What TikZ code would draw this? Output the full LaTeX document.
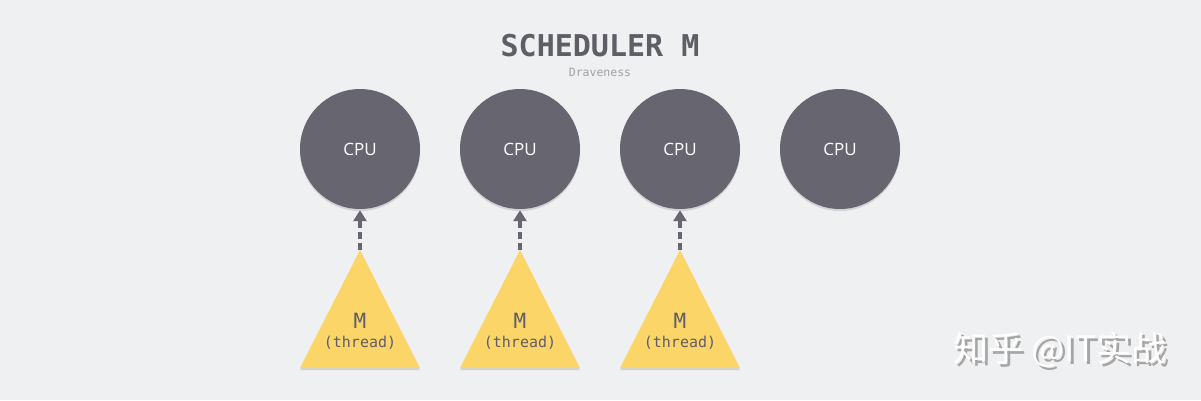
\documentclass[tikz,border=0pt]{standalone}
\usepackage{fontspec}
\setmainfont{Open Sans}
\newfontfamily\codefont{DejaVu Sans Mono}
\newfontfamily\cjkfont{Noto Sans CJK SC}
\usetikzlibrary{arrows.meta, positioning, shadows}
\definecolor{bgGray}{RGB}{239,240,242}
\definecolor{cpuGray}{RGB}{103,101,112}
\definecolor{threadYellow}{RGB}{251,213,103}
\definecolor{inkGray}{RGB}{95,94,102}
\definecolor{noteGray}{RGB}{160,160,168}
\tikzset{
  cpu/.style={circle, fill=cpuGray, minimum size=120pt, inner sep=0pt,
              text=white, font=\fontsize{17}{20}\selectfont,
              drop shadow={shadow xshift=0pt, shadow yshift=-2pt, opacity=0.25}},
  mlabel/.style={text=inkGray, align=center, inner sep=0pt},
  bind/.style={line width=4.5pt, cpuGray, dash pattern=on 7pt off 4pt,
               -{Triangle[length=11pt, width=13pt]}, shorten >=1pt},
}
\newcommand{\threadtri}[1]{%
  \fill[black, opacity=0.12] (#1-60,370) -- (#1,252) -- (#1+60,370) -- cycle;
  \fill[threadYellow] (#1-60,368) -- (#1,250) -- (#1+60,368) -- cycle;
}

\begin{document}
\begin{tikzpicture}[x=1pt, y=-1pt]
  % ----- canvas -----
  \fill[bgGray] (0,0) rectangle (1201,400);
  \useasboundingbox (0,0) rectangle (1201,400);

  % ----- title -----
  \node[text=inkGray, font=\codefont\bfseries\fontsize{30}{36}\selectfont]
        (title) at (600,46) {SCHEDULER M};
  \node[text=noteGray, font=\codefont\fontsize{11.5}{14}\selectfont]
        (author) at (600,72) {Draveness};

  % ----- processors -----
  \node[cpu] (cpu1) at (360,149) {CPU};
  \node[cpu] (cpu2) at (520,149) {CPU};
  \node[cpu] (cpu3) at (680,149) {CPU};
  \node[cpu] (cpu4) at (840,149) {CPU};

  % ----- threads -----
  \threadtri{360}
  \threadtri{520}
  \threadtri{680}
  \coordinate (apex1) at (360,250);
  \coordinate (apex2) at (520,250);
  \coordinate (apex3) at (680,250);
  \node[mlabel] (m1) at (360,331)
        {{\codefont\fontsize{21}{24}\selectfont M}\\[7pt]{\codefont\fontsize{15}{17}\selectfont (thread)}};
  \node[mlabel] (m2) at (520,331)
        {{\codefont\fontsize{21}{24}\selectfont M}\\[7pt]{\codefont\fontsize{15}{17}\selectfont (thread)}};
  \node[mlabel] (m3) at (680,331)
        {{\codefont\fontsize{21}{24}\selectfont M}\\[7pt]{\codefont\fontsize{15}{17}\selectfont (thread)}};

  % ----- bindings -----
  \draw[bind] (apex1) -- (cpu1.south);
  \draw[bind] (apex2) -- (cpu2.south);
  \draw[bind] (apex3) -- (cpu3.south);

  % ----- watermark -----
  \node[text=black!35, font=\cjkfont\fontsize{35}{40}\selectfont]
        (markshade) at (1063,353) {知乎 @IT实战};
  \node[text=white, font=\cjkfont\fontsize{35}{40}\selectfont]
        (mark) at (1060,350) {知乎 @IT实战};
\end{tikzpicture}
\end{document}
